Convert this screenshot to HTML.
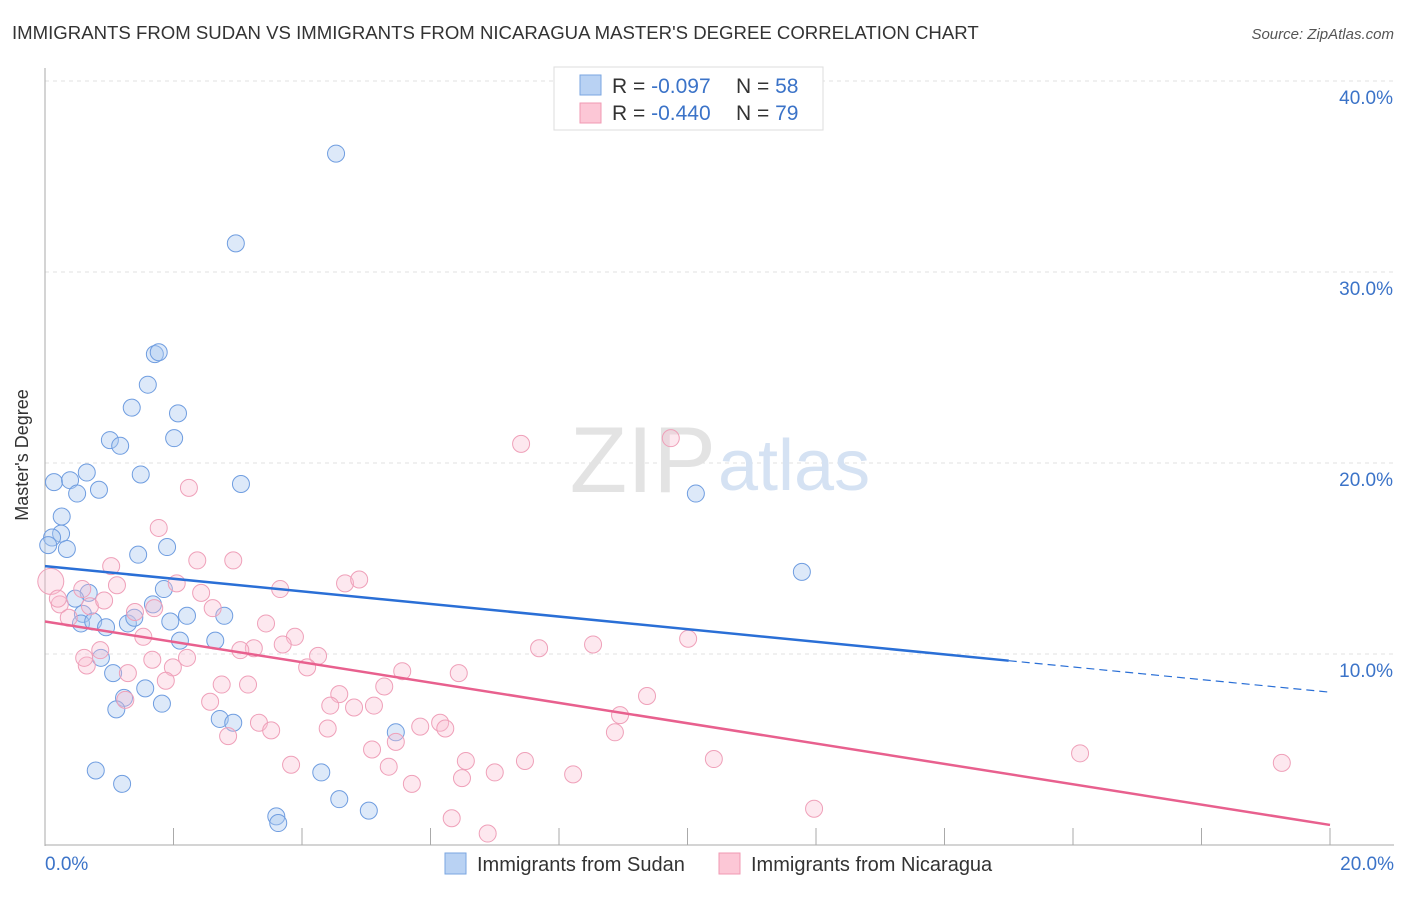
<!DOCTYPE html>
<html><head><meta charset="utf-8"><style>
body{margin:0;background:#fff;font-family:"Liberation Sans",sans-serif}
svg text{font-family:"Liberation Sans",sans-serif}
</style></head><body>
<svg id="chart" width="1406" height="892">
<text x="12" y="39" font-size="18.6" fill="#333">IMMIGRANTS FROM SUDAN VS IMMIGRANTS FROM NICARAGUA MASTER'S DEGREE CORRELATION CHART</text>
<text x="1394" y="39" font-size="15" fill="#555" font-style="italic" text-anchor="end">Source: ZipAtlas.com</text>
<g id="grid"></g>
<text x="716" y="492" font-size="94" fill="#e3e3e3" font-family="Liberation Serif" text-anchor="end">ZIP</text>
<text x="718" y="490" font-size="72" fill="#d5e2f3">atlas</text>
<g id="marks"></g>
<text x="28" y="455" font-size="18" fill="#333" text-anchor="middle" transform="rotate(-90 28 455)">Master's Degree</text>
<g>
<rect x="554" y="67" width="269" height="63" fill="#fff" stroke="#ddd"/>
<rect x="580" y="75" width="21" height="20" fill="#b9d2f3" stroke="#7aa6e0"/>
<rect x="580" y="103" width="21" height="20" fill="#fcc7d6" stroke="#f09ab3"/>
<text x="612" y="93" font-size="21" fill="#333">R = <tspan fill="#3b73c8">-0.097</tspan></text>
<text x="736" y="93" font-size="21" fill="#333">N = <tspan fill="#3b73c8">58</tspan></text>
<text x="612" y="120" font-size="21" fill="#333">R = <tspan fill="#3b73c8">-0.440</tspan></text>
<text x="736" y="120" font-size="21" fill="#333">N = <tspan fill="#3b73c8">79</tspan></text>
</g>
<g>
<rect x="445" y="853" width="21" height="21" fill="#b9d2f3" stroke="#7aa6e0"/>
<text x="477" y="871" font-size="20" fill="#333">Immigrants from Sudan</text>
<rect x="719" y="853" width="21" height="21" fill="#fcc7d6" stroke="#f09ab3"/>
<text x="751" y="871" font-size="20" fill="#333">Immigrants from Nicaragua</text>
</g>
</svg>
<script>
const yTicks=[10,20,30,40];
const xTickLabels=["0.0%","20.0%"];
const sudanX=[4.53,2.97,1.71,1.77,1.60,1.35,2.07,1.01,1.17,2.01,0.14,0.39,0.65,1.49,0.50,0.84,3.05,10.13,0.26,0.25,0.11,0.05,0.34,1.45,1.90,11.78,0.68,0.47,1.85,1.68,0.59,0.56,0.75,0.95,1.29,1.39,2.21,2.79,1.95,2.10,2.65,0.87,1.06,1.56,1.23,1.11,1.82,2.72,2.93,5.46,0.79,1.20,4.30,3.60,3.63,4.58,5.04];
const sudanY=[36.2,31.5,25.7,25.8,24.1,22.9,22.6,21.2,20.9,21.3,19.0,19.1,19.5,19.4,18.4,18.6,18.9,18.4,17.2,16.3,16.1,15.7,15.5,15.2,15.6,14.3,13.2,12.9,13.4,12.6,12.1,11.6,11.7,11.4,11.6,11.9,12.0,12.0,11.7,10.7,10.7,9.8,9.0,8.2,7.7,7.1,7.4,6.6,6.4,5.9,3.9,3.2,3.8,1.5,1.15,2.4,1.8];
const nicX=[7.41,9.74,2.24,1.77,2.37,2.93,1.03,0.09,3.66,4.67,4.89,1.12,2.05,2.43,0.23,0.37,0.70,0.92,1.40,1.70,2.61,3.44,3.89,3.25,3.70,3.04,1.53,0.86,4.25,7.69,8.53,10.01,2.21,1.67,1.99,0.65,4.08,5.56,6.44,1.29,1.88,2.75,3.16,5.28,9.37,2.57,1.25,4.58,4.44,4.81,5.12,5.84,6.15,6.23,8.95,8.87,2.85,3.33,3.52,4.40,5.46,5.09,3.83,5.35,6.55,7.47,10.41,16.11,19.25,6.49,7.00,8.22,5.71,6.33,6.89,11.97,0.61,0.20,0.58];
const nicY=[21.0,21.3,18.7,16.6,14.9,14.9,14.6,13.8,13.4,13.7,13.9,13.6,13.7,13.2,12.6,11.9,12.5,12.8,12.2,12.4,12.4,11.6,10.9,10.3,10.5,10.2,10.9,10.2,9.9,10.3,10.5,10.8,9.8,9.7,9.3,9.4,9.3,9.1,9.0,9.0,8.6,8.4,8.4,8.3,7.8,7.5,7.6,7.9,7.3,7.2,7.3,6.2,6.4,6.1,6.8,5.9,5.7,6.4,6.0,6.1,5.4,5.0,4.2,4.1,4.4,4.4,4.5,4.8,4.3,3.5,3.8,3.7,3.2,1.4,0.6,1.9,9.8,12.9,13.4];
const sudanTrend=[14.6,8.0];   // value at x=0, x=20
const nicTrend=[11.7,1.05];
const sudanSolidEnd=15.0;

const NS="http://www.w3.org/2000/svg";
const X=v=>45+v*64.25, Y=v=>845-v*19.1;
function mk(tag,attrs,parent){const e=document.createElementNS(NS,tag);for(const k in attrs)e.setAttribute(k,attrs[k]);parent.appendChild(e);return e;}
const grid=document.getElementById('grid'), marks=document.getElementById('marks'), svg=document.getElementById('chart');
yTicks.forEach(t=>{
  const l=mk('line',{x1:45,x2:1394,y1:Y(t),y2:Y(t),stroke:'#e2e2e2','stroke-dasharray':'4,4'},grid);
  
  
  const tx=mk('text',{x:1393,y:Y(t)+23,'font-size':19,fill:'#3b73c8','text-anchor':'end'},svg);
  tx.textContent=t.toFixed(1)+'%';
  
  
});
const ax=mk('line',{x1:45,x2:45,y1:68,y2:846,stroke:'#aaa'},grid);


const bx=mk('line',{x1:45,x2:1394,y1:845,y2:845,stroke:'#aaa'},grid);


for(let i=0;i<=10;i++){const tk=mk('line',{x1:X(i*2),x2:X(i*2),y1:828,y2:845,stroke:'#aaa'},grid);

}
[[0,'start',45],[20,'end',1394]].forEach((d,i)=>{const t=mk('text',{x:d[2],y:870,'font-size':19,fill:'#3b73c8','text-anchor':d[1]},svg);t.textContent=xTickLabels[i];

});
sudanX.forEach((x,i)=>{const c=mk('circle',{cx:X(x),cy:Y(sudanY[i]),r:8.5,fill:'rgba(170,200,240,0.4)',stroke:'#6f9de0','stroke-width':1},marks);

});
nicX.forEach((x,i)=>{const c=mk('circle',{cx:X(x),cy:Y(nicY[i]),r:i===7?13:8.5,fill:'rgba(250,190,208,0.35)',stroke:'#efa0b9','stroke-width':1},marks);

});
const sv=x=>sudanTrend[0]+(sudanTrend[1]-sudanTrend[0])*x/20;
const l1=mk('line',{x1:X(0),y1:Y(sv(0)),x2:X(sudanSolidEnd),y2:Y(sv(sudanSolidEnd)),stroke:'#2a6fd6','stroke-width':2.5},marks);


const l2=mk('line',{x1:X(sudanSolidEnd),y1:Y(sv(sudanSolidEnd)),x2:X(20),y2:Y(sv(20)),stroke:'#2a6fd6','stroke-width':1.2,'stroke-dasharray':'8,5'},marks);


const l3=mk('line',{x1:X(0),y1:Y(nicTrend[0]),x2:X(20),y2:Y(nicTrend[1]),stroke:'#e8608e','stroke-width':2.5},marks);


</script>
</body></html>
